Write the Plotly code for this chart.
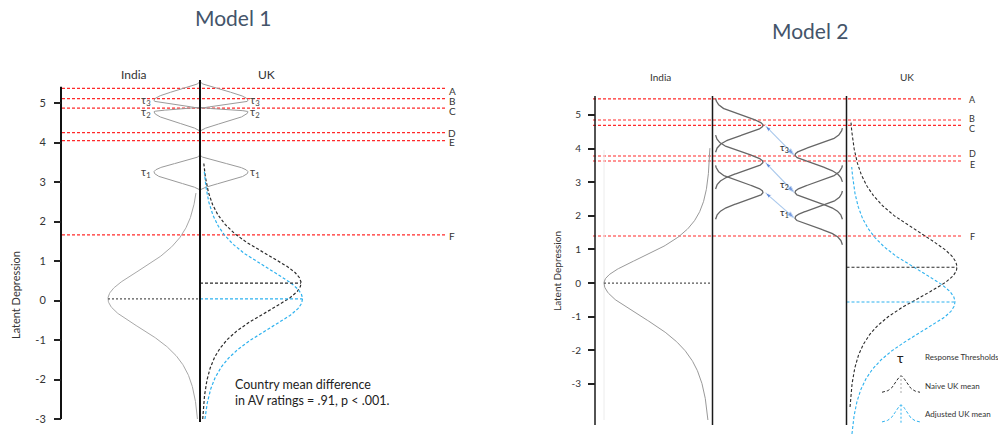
import numpy as np
import plotly.graph_objects as go

# ---------------- Model 1 ----------------
m1_ticks = [-3, -2, -1, 0, 1, 2, 3, 4, 5]
m1_tick_text = ["-3", "-2", "-1", "0", "1", "2", "3", "4", "5"]
cut_labels = ["A", "B", "C", "D", "E", "F"]
m1_cut_values = [5.37, 5.11, 4.87, 4.25, 4.05, 1.66]
tau_labels = ["τ<sub>1</sub>", "τ<sub>2</sub>", "τ<sub>3</sub>"]
m1_tau_values = [3.25, 4.78, 5.06]
m1_india_mean = 0.04
m1_uk_naive_mean = 0.44
m1_uk_adjusted_mean = 0.04

# ---------------- Model 2 ----------------
m2_ticks = [-3, -2, -1, 0, 1, 2, 3, 4, 5]
m2_tick_text = ["-3", "-2", "-1", "0", "1", "2", "3", "4", "5"]
m2_cut_values = [5.48, 4.85, 4.69, 3.78, 3.63, 1.40]
m2_india_tau_values = [2.70, 3.60, 4.69]
m2_uk_tau_values = [1.94, 2.70, 3.81]
m2_india_mean = 0.00
m2_uk_naive_mean = 0.47
m2_uk_adjusted_mean = -0.56

# ---------------- geometry & style ----------------
W, H = 998, 434
FONT = "Lato"
RED = "#ff2a2a"
BLUE = "#2eb2ef"
DARK = "#2b2b2b"
M1_ZERO_PX, M1_UNIT_PX = 300.5, 39.5     # pixel row of 0 and pixels per unit
M2_ZERO_PX, M2_UNIT_PX = 283.1, 33.63


def v1(row):
    return (M1_ZERO_PX - row) / M1_UNIT_PX


def v2(row):
    return (M2_ZERO_PX - row) / M2_UNIT_PX


def bell(v, mu, s_up, s_dn, nu=None):
    s = np.where(v >= mu, s_up, s_dn)
    z = (v - mu) / s
    if nu is None:
        return np.exp(-0.5 * z * z)
    return (1 + z * z / nu) ** (-(nu + 1) / 2)


def lens(v, mu, span_up, span_dn, power=0.85):
    # rounded bulge that meets the axis tangentially at both ends
    t = np.where(v >= mu, (v - mu) / span_up, (mu - v) / span_dn)
    t = np.clip(t, 0, 1)
    return ((1 + np.cos(np.pi * t)) / 2) ** power


fig = go.Figure()


def line(x, y, yaxis, color, width=1.0, dash=None):
    fig.add_trace(go.Scatter(x=x, y=y, yaxis=yaxis, mode="lines", hoverinfo="skip",
                             line=dict(color=color, width=width, dash=dash)))


def density(lo, hi, mu, base, amp, s_up, s_dn, nu, yaxis, color, width=1.0, dash=None):
    v = np.linspace(lo, hi, 400)
    line(base + amp * bell(v, mu, s_up, s_dn, nu), v, yaxis, color, width, dash)


def text(x, row, s, size, color="#333", xanchor="center", angle=0):
    fig.add_annotation(x=x, y=1 - row / H, xref="x", yref="paper", text=s, showarrow=False,
                       xanchor=xanchor, yanchor="middle", textangle=angle,
                       font=dict(family=FONT, size=size, color=color))


DASH = "3px,2px"

# ===== Model 1 =====
C1 = 200
for lab, val, dy in zip(cut_labels, m1_cut_values, [3, 2, 2.4, 0, 1.6, 1]):
    line([62, 446], [val, val], "y", RED, 1.2, DASH)
    fig.add_annotation(x=452, y=val, xref="x", yref="y", text=lab, showarrow=False,
                       yshift=-dy, font=dict(family=FONT, size=10, color="#333"))

# response-threshold lenses on both sides of the centre line
m1_span_up = [0.43, 0.11, 0.48]
m1_span_dn = [0.47, 0.51, 0.21]
m1_label_dy = [0, -1, 0]
for lab, mu, su, sd, dy in zip(tau_labels, m1_tau_values, m1_span_up, m1_span_dn, m1_label_dy):
    vv = np.linspace(mu - sd, mu + su, 300)
    for amp in (-46, 48):
        line(C1 + amp * lens(vv, mu, su, sd), vv, "y", "#9a9a9a", 1.0)
    fig.add_annotation(x=C1 - 47, y=mu, xref="x", yref="y", text=lab, showarrow=False,
                       xanchor="right", yshift=dy, font=dict(family=FONT, size=11, color="#444"))
    fig.add_annotation(x=C1 + 48, y=mu, xref="x", yref="y", text=lab, showarrow=False,
                       xanchor="left", yshift=dy, font=dict(family=FONT, size=11, color="#444"))

# latent distributions
density(-3.0, 2.72, m1_india_mean, C1, -92, 0.85, 0.85, 4, "y", "#a8a8a8", 1.0)
density(-3.0, 3.48, m1_uk_naive_mean, C1 + 1, 100, 0.85, 0.85, 4, "y", DARK, 1.2, DASH)
density(-3.0, 3.30, m1_uk_adjusted_mean, C1 + 1.5, 101, 0.9, 0.9, 4, "y", BLUE, 1.2, DASH)
line([C1 - 92, C1], [m1_india_mean] * 2, "y", "#555", 1.1, "2px,2px")
line([C1, C1 + 101], [m1_uk_naive_mean] * 2, "y", DARK, 1.1, DASH)
line([C1, C1 + 102.5], [m1_uk_adjusted_mean] * 2, "y", BLUE, 1.1, DASH)

# frame lines
line([C1, C1], [v1(80), v1(422)], "y", "#111", 2.0)
line([61, 61], [v1(86.7), -3], "y", "#111", 2.0)

text(233, 17, "Model 1", 21, "#44546a")
text(134, 74, "India", 12)
text(266, 74, "UK", 12)
text(15, 295, "Latent Depression", 11, angle=-90)
fig.add_annotation(x=233, y=1 - 392 / H, xref="x", yref="paper", showarrow=False,
                   xanchor="left", yanchor="middle", align="left",
                   text="Country mean difference<br>in AV ratings = .91, p < .001.",
                   font=dict(family=FONT, size=12.5, color="#222"))

# ===== Model 2 =====
AX2, IN2, UK2 = 595, 712.5, 846.5
for lab, val, dy in zip(cut_labels, m2_cut_values, [0.6, -1, 3, -2, 3, 0]):
    line([593, 963], [val, val], "y2", RED, 1.2, DASH)
    fig.add_annotation(x=972, y=val, xref="x", yref="y2", text=lab, showarrow=False,
                       yshift=-dy, font=dict(family=FONT, size=9, color="#333"))

# faint guide under the India peak
line([604, 604], [v2(150), v2(420)], "y2", "#ececec", 1.0)

# India distribution and mean
density(v2(420), v2(148), m2_india_mean, IN2 - 1.5, -107, 0.88, 1.15, 4, "y2", "#999", 1.0)
line([IN2 - 108.5, IN2], [m2_india_mean] * 2, "y2", "#555", 1.1, "2px,2px")

# UK distributions and means
density(v2(407), v2(122), m2_uk_naive_mean, UK2 + 1.5, 109, 1.2, 1.05, 4, "y2", DARK, 1.1, DASH)
density(v2(434), v2(167), m2_uk_adjusted_mean, UK2 + 2.5, 106, 1.1, 1.1, 4, "y2", BLUE, 1.1, DASH)
line([UK2, UK2 + 110.5], [m2_uk_naive_mean] * 2, "y2", DARK, 1.1, DASH)
line([UK2, UK2 + 108.5], [m2_uk_adjusted_mean] * 2, "y2", BLUE, 1.1, DASH)

# threshold distributions: India column (bulging right) and UK column (bulging left)
TAU_SD = 0.27
L_BASE, R_BASE, TAU_AMP = 715, 843, 48
for mu in m2_india_tau_values:
    density(mu - 0.8, mu + 0.8, mu, L_BASE, TAU_AMP, TAU_SD, TAU_SD, None, "y2", "#666", 1.3)
for mu in m2_uk_tau_values:
    density(mu - 0.8, mu + 0.8, mu, R_BASE, -TAU_AMP, TAU_SD, TAU_SD, None, "y2", "#666", 1.3)

# shift arrows linking the matching thresholds
for lab, a, b in zip(tau_labels, m2_india_tau_values, m2_uk_tau_values):
    xa, xb = L_BASE + TAU_AMP + 2, R_BASE - TAU_AMP - 1
    fig.add_trace(go.Scatter(x=[xa, xb], y=[a, b], yaxis="y2", mode="lines+markers", hoverinfo="skip",
                             line=dict(color="#a9c8ec", width=1.1),
                             marker=dict(symbol="arrow", angleref="previous", size=[0, 7],
                                         color="#3b6fd4")))
    fig.add_trace(go.Scatter(x=[xb, xa], y=[b, a], yaxis="y2", mode="markers", hoverinfo="skip",
                             marker=dict(symbol="arrow", angleref="previous", size=[0, 7],
                                         color="#3b6fd4")))
    fig.add_annotation(x=(xa + xb) / 2, y=(a + b) / 2, xref="x", yref="y2", text=lab,
                       showarrow=False, xshift=5, yshift=-7,
                       font=dict(family=FONT, size=10, color="#333"))

# frame lines
for xc in (AX2, IN2, UK2):
    line([xc, xc], [v2(96), v2(425)], "y2", "#1a1a1a", 1.5)

text(810, 30, "Model 2", 21, "#44546a")
text(660, 77, "India", 10)
text(907, 77, "UK", 10)
text(557, 271, "Latent Depression", 10, angle=-90)

# key
text(900, 357, "τ", 14, "#222")
text(923, 357, "Response Thresholds", 8, xanchor="left")
text(923, 386, "Naive UK mean", 8, xanchor="left")
text(923, 414, "Adjusted UK mean", 8, xanchor="left")
kx = np.linspace(882, 920, 80)
for base_row, peak_row, color in ((393, 376, DARK), (422.7, 405, BLUE)):
    b, p = v2(base_row), v2(peak_row)
    line(kx, b + (p - b) * bell(kx, 901, 6, 6, 4), "y2", color, 1.0, DASH)
    line([901, 901], [b, p], "y2", "#aaa" if color == DARK else BLUE, 1.0, "2px,2px")

axis_common = dict(domain=[0, 1], anchor="free", showgrid=False, zeroline=False, showline=False,
                   ticks="outside", ticklen=7, tickwidth=1.5, tickcolor="#222", fixedrange=True)
fig.update_layout(
    width=W, height=H, margin=dict(l=0, r=0, t=0, b=0),
    paper_bgcolor="white", plot_bgcolor="white", showlegend=False,
    font=dict(family=FONT),
    xaxis=dict(range=[0, W], domain=[0, 1], visible=False, fixedrange=True),
    yaxis=dict(range=[(M1_ZERO_PX - H) / M1_UNIT_PX, M1_ZERO_PX / M1_UNIT_PX], position=61 / W,
               tickvals=m1_ticks, ticktext=m1_tick_text, ticklabelstandoff=6,
               tickfont=dict(family=FONT, size=11, color="#333"), **axis_common),
    yaxis2=dict(range=[(M2_ZERO_PX - H) / M2_UNIT_PX, M2_ZERO_PX / M2_UNIT_PX], position=AX2 / W,
                overlaying="y", tickvals=m2_ticks, ticktext=m2_tick_text, ticklabelstandoff=5,
                tickfont=dict(family=FONT, size=10, color="#333"), **axis_common),
)

fig.write_html("out.html")
